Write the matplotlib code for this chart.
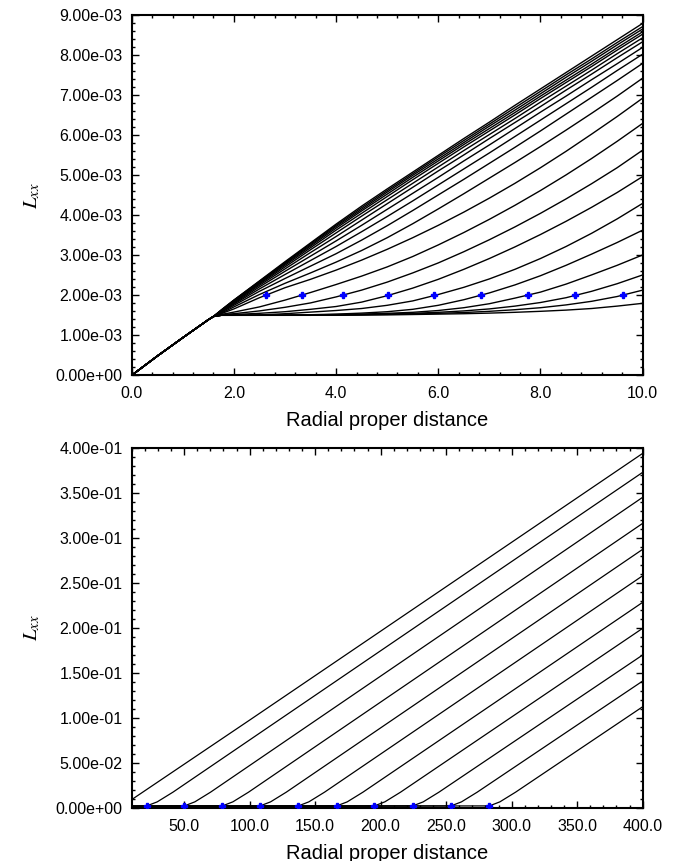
import numpy as np
import matplotlib.pyplot as plt
from matplotlib.ticker import MultipleLocator, FormatStrFormatter

plt.rcParams['font.family'] = ['Liberation Sans', 'DejaVu Sans']
plt.rcParams['mathtext.fontset'] = 'stix'

# ---------------- upper panel: 0 <= r <= 10, L_xx in units of 1e-3 ----------------
r_core = [0.0, 0.5, 1.0, 1.5, 1.6]
L_core = [0.0, 0.48, 0.94, 1.39, 1.47]          # shared by every curve

r_top = [1.75, 2.0, 2.5, 3.0, 3.5, 4.0, 4.5, 5.0, 5.5,
         6.0, 6.5, 7.0, 7.5, 8.0, 8.5, 9.0, 9.5, 10.0]

# upper bundle (no marker inside the window)
top_bundle = [
    [1.63, 1.88, 2.36, 2.84, 3.31, 3.78, 4.23, 4.66, 5.08, 5.50, 5.92, 6.33, 6.75, 7.16, 7.57, 7.98, 8.39, 8.80],
    [1.63, 1.88, 2.35, 2.82, 3.29, 3.75, 4.19, 4.62, 5.04, 5.46, 5.87, 6.28, 6.69, 7.10, 7.51, 7.91, 8.32, 8.72],
    [1.62, 1.87, 2.34, 2.80, 3.26, 3.72, 4.15, 4.58, 5.00, 5.41, 5.82, 6.23, 6.63, 7.04, 7.45, 7.85, 8.26, 8.66],
    [1.62, 1.86, 2.32, 2.78, 3.23, 3.68, 4.11, 4.53, 4.95, 5.36, 5.77, 6.17, 6.57, 6.98, 7.38, 7.78, 8.19, 8.59],
    [1.61, 1.85, 2.30, 2.75, 3.19, 3.63, 4.05, 4.47, 4.89, 5.30, 5.71, 6.11, 6.51, 6.92, 7.32, 7.72, 8.13, 8.53],
    [1.61, 1.84, 2.28, 2.71, 3.14, 3.56, 3.98, 4.39, 4.80, 5.21, 5.62, 6.02, 6.42, 6.83, 7.23, 7.63, 8.04, 8.44],
    [1.60, 1.82, 2.25, 2.66, 3.07, 3.47, 3.88, 4.29, 4.70, 5.11, 5.51, 5.92, 6.32, 6.72, 7.13, 7.53, 7.94, 8.34],
    [1.59, 1.80, 2.21, 2.60, 2.98, 3.36, 3.75, 4.15, 4.55, 4.95, 5.36, 5.76, 6.17, 6.58, 6.98, 7.39, 7.79, 8.20],
    [1.58, 1.78, 2.16, 2.52, 2.87, 3.22, 3.59, 3.97, 4.36, 4.76, 5.16, 5.56, 5.97, 6.38, 6.79, 7.20, 7.62, 8.03],
    [1.57, 1.75, 2.10, 2.42, 2.73, 3.04, 3.38, 3.74, 4.12, 4.51, 4.90, 5.30, 5.70, 6.11, 6.53, 6.95, 7.37, 7.80],
    [1.55, 1.71, 2.02, 2.30, 2.56, 2.83, 3.12, 3.44, 3.79, 4.16, 4.54, 4.93, 5.32, 5.72, 6.13, 6.55, 6.98, 7.43],
]

# lower curves, each leaving the 1.5e-3 plateau later
top_lower = [
    [1.54, 1.66, 1.94, 2.19, 2.40, 2.63, 2.88, 3.15, 3.44, 3.75, 4.08, 4.43, 4.80, 5.19, 5.60, 6.03, 6.47, 6.93],
    [1.52, 1.58, 1.71, 1.88, 2.07, 2.27, 2.48, 2.71, 2.97, 3.26, 3.57, 3.90, 4.25, 4.62, 5.01, 5.42, 5.85, 6.30],
    [1.52, 1.54, 1.61, 1.70, 1.81, 1.96, 2.13, 2.33, 2.56, 2.81, 3.09, 3.39, 3.71, 4.05, 4.41, 4.79, 5.19, 5.63],
    [1.51, 1.52, 1.55, 1.59, 1.65, 1.72, 1.83, 1.99, 2.18, 2.40, 2.65, 2.92, 3.21, 3.52, 3.85, 4.20, 4.57, 4.97],
    [1.50, 1.50, 1.51, 1.54, 1.58, 1.62, 1.67, 1.75, 1.86, 2.02, 2.20, 2.41, 2.65, 2.92, 3.22, 3.55, 3.91, 4.30],
    [1.50, 1.50, 1.50, 1.505, 1.515, 1.53, 1.555, 1.59, 1.65, 1.75, 1.89, 2.06, 2.26, 2.49, 2.75, 3.03, 3.32, 3.63],
    [1.50, 1.50, 1.50, 1.50, 1.51, 1.52, 1.53, 1.55, 1.575, 1.62, 1.69, 1.79, 1.93, 2.08, 2.28, 2.51, 2.75, 3.01],
    [1.50, 1.50, 1.50, 1.50, 1.50, 1.51, 1.52, 1.535, 1.55, 1.575, 1.61, 1.66, 1.73, 1.82, 1.94, 2.10, 2.29, 2.51],
    [1.50, 1.50, 1.50, 1.50, 1.50, 1.51, 1.515, 1.525, 1.535, 1.55, 1.57, 1.60, 1.64, 1.69, 1.76, 1.85, 1.97, 2.13],
    [1.50, 1.50, 1.50, 1.50, 1.50, 1.50, 1.505, 1.51, 1.52, 1.53, 1.54, 1.555, 1.575, 1.60, 1.63, 1.67, 1.73, 1.80],
]

top_marker_r = [2.62, 3.33, 4.14, 5.01, 5.91, 6.83, 7.75, 8.68, 9.61]
top_marker_L = [2.0] * len(top_marker_r)

# ---------------- lower panel: 10 <= r <= 400 ----------------
bot_lead_r = [10.0, 100.0, 400.0]
bot_lead_L = [0.0090, 0.0975, 0.3944]

bot_marker_r = [21.5, 50.2, 79.2, 108.0, 137.2, 166.5, 195.2, 224.5, 253.7, 283.0]
bot_bend_r = [29.5, 58.2, 87.2, 116.0, 145.2, 174.5, 203.2, 232.5, 261.7, 291.0]
bot_bend_L = [0.0065] * 10
bot_knee_r = [41.5, 70.2, 99.2, 128.0, 157.2, 186.5, 215.2, 244.5, 273.7, 303.0]
bot_knee_L = [0.0173] * 10
bot_end_L = [0.3733, 0.3455, 0.3165, 0.2876, 0.2582, 0.2286, 0.1997, 0.1700, 0.1410, 0.1124]
plateau_L = 0.0015
marker_L = 0.002

fig = plt.figure(figsize=(6.83, 8.61), dpi=100)
ax1 = fig.add_axes([0.1928, 0.5641, 0.7482, 0.4181])
ax2 = fig.add_axes([0.1928, 0.0619, 0.7482, 0.4174])

scale = 1e-3
for row in top_bundle + top_lower:
    r = r_core + r_top
    L = np.array(L_core + row) * scale
    ax1.plot(r, L, color='black', lw=1.0)
ax1.plot(top_marker_r, np.array(top_marker_L) * scale, ls='none', marker='P',
         ms=4.5, color='blue', mec='blue', zorder=5)

ax2.plot(bot_lead_r, bot_lead_L, color='black', lw=0.9)
for m, br, bL, kr, kL, eL in zip(bot_marker_r, bot_bend_r, bot_bend_L,
                                 bot_knee_r, bot_knee_L, bot_end_L):
    ax2.plot([10.0, m, br, kr, 400.0], [plateau_L, marker_L, bL, kL, eL],
             color='black', lw=0.9)
ax2.plot(bot_marker_r, [marker_L] * len(bot_marker_r), ls='none', marker='P',
         ms=4.5, color='blue', mec='blue', zorder=5)

ax1.set_xlim(0, 10)
ax1.set_ylim(0, 9e-3)
ax1.xaxis.set_major_locator(MultipleLocator(2.0))
ax1.xaxis.set_minor_locator(MultipleLocator(0.4))
ax1.yaxis.set_major_locator(MultipleLocator(1e-3))
ax1.yaxis.set_minor_locator(MultipleLocator(2e-4))

ax2.set_xlim(10, 400)
ax2.set_ylim(0, 0.4)
ax2.set_xticks(np.arange(50, 401, 50))
ax2.xaxis.set_minor_locator(MultipleLocator(10))
ax2.yaxis.set_major_locator(MultipleLocator(0.05))
ax2.yaxis.set_minor_locator(MultipleLocator(0.01))

for ax in (ax1, ax2):
    ax.xaxis.set_major_formatter(FormatStrFormatter('%.1f'))
    ax.yaxis.set_major_formatter(FormatStrFormatter('%.2e'))
    ax.tick_params(which='both', direction='in', top=True, right=True, width=1.0,
                   labelsize=11.5)
    ax.tick_params(axis='x', which='major', pad=8)
    ax.tick_params(axis='y', which='major', pad=6.5)
    ax.tick_params(which='major', length=5)
    ax.tick_params(which='minor', length=2.5)
    for s in ax.spines.values():
        s.set_linewidth(1.5)
    ax.set_xlabel('Radial proper distance', fontsize=14.5)
    ax.set_ylabel(r'$L_{xx}$', fontsize=15)
    ax.yaxis.set_label_coords(-0.175, 0.5)
    ax.xaxis.set_label_coords(0.5, -0.1)

fig.savefig('out.png', dpi=100)
